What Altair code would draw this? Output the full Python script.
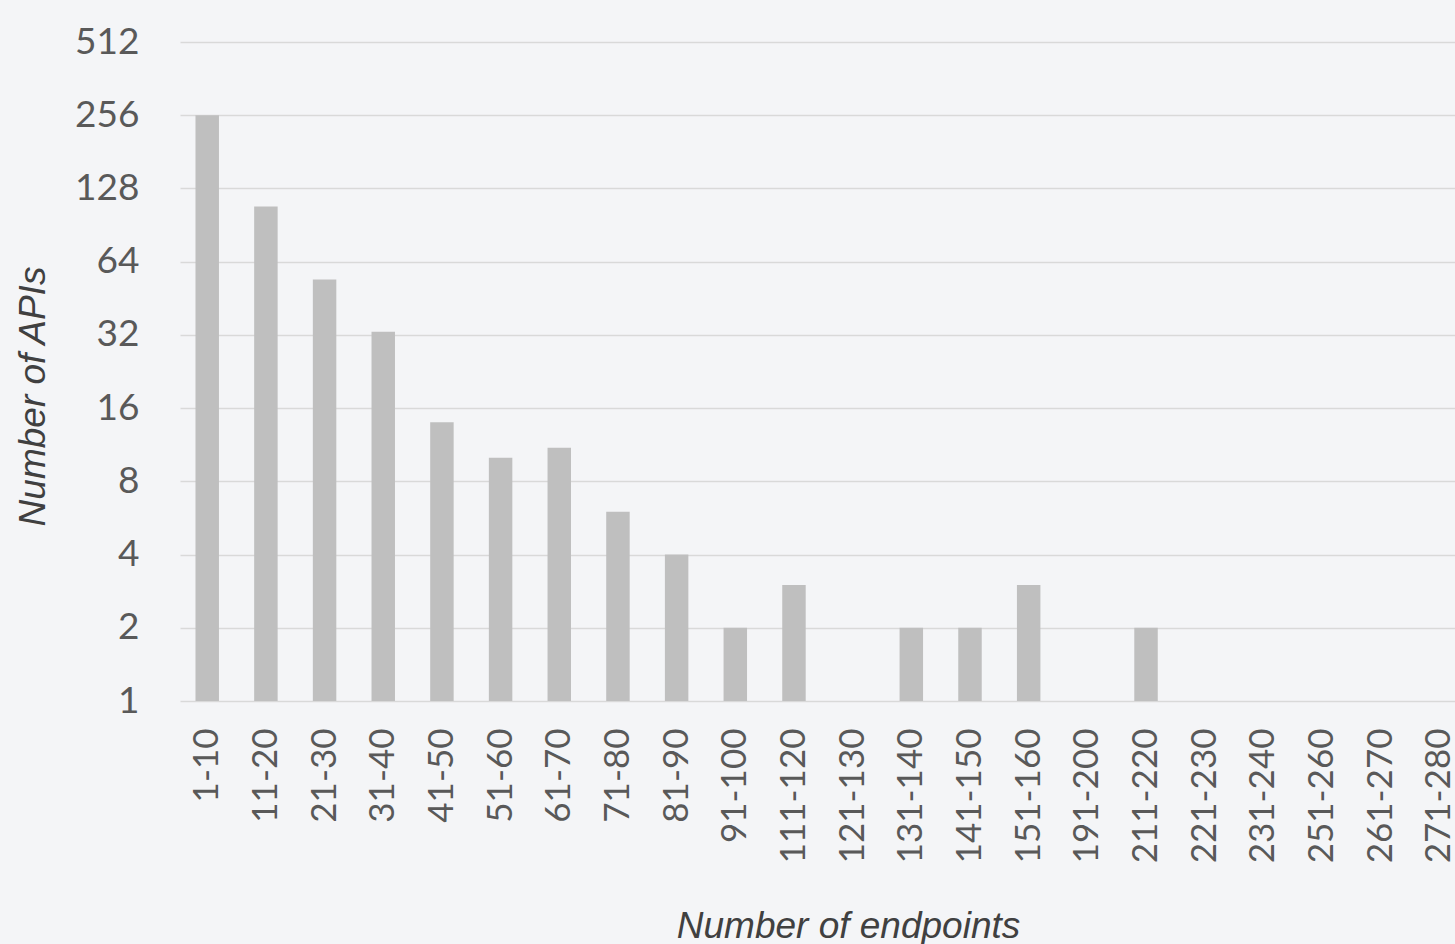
import altair as alt
import pandas as pd

# Endpoint-count buckets and number of APIs in each
buckets = ["1-10", "11-20", "21-30", "31-40", "41-50", "51-60", "61-70", "71-80",
           "81-90", "91-100", "111-120", "121-130", "131-140", "141-150", "151-160",
           "191-200", "211-220", "221-230", "231-240", "251-260", "261-270", "271-280"]
api_counts = [256, 108, 54, 33, 14, 10, 11, 6, 4, 2, 3, 1, 2, 2, 3, 1, 2, 1, 1, 1, 1, 1]
y_ticks = [1, 2, 4, 8, 16, 32, 64, 128, 256, 512]

df = pd.DataFrame({"bucket": buckets, "apis": api_counts})
df["base"] = 1  # bars start at the bottom of the log axis

BG = "#f4f5f7"
LABEL = "#595959"
TITLE = "#404040"
GRID = "#d9d9d9"

chart = (
    alt.Chart(df)
    .mark_bar(color="#bfbfbf")
    .encode(
        x=alt.X(
            "bucket:N",
            sort=buckets,
            scale=alt.Scale(paddingInner=0.6, paddingOuter=0.165, align=0.8),
            axis=alt.Axis(
                title="Number of endpoints",
                labelAngle=270,
                labelFont="Lato",
                labelFontSize=35,
                labelColor=LABEL,
                labelPadding=27,
                labelOverlap=False,
                labelBound=False,
                ticks=False,
                domain=False,
                grid=False,
                titleFont="Liberation Sans",
                titleFontStyle="italic",
                titleFontWeight="normal",
                titleFontSize=37,
                titleColor=TITLE,
                titleAlign="center",
                titleBaseline="alphabetic",
                titleX=668,
                titleY=236,
            ),
        ),
        y=alt.Y(
            "apis:Q",
            scale=alt.Scale(type="log", base=2, domain=[1, 512], nice=False),
            axis=alt.Axis(
                title="Number of APIs",
                values=y_ticks,
                format="d",
                labelFont="Lato",
                labelFontSize=37,
                labelColor=LABEL,
                labelPadding=41,
                ticks=False,
                domain=False,
                grid=True,
                gridColor=GRID,
                gridWidth=1.6,
                titleFont="Liberation Sans",
                titleFontStyle="italic",
                titleFontWeight="normal",
                titleFontSize=37,
                titleColor=TITLE,
                titleAngle=270,
                titleAlign="center",
                titleBaseline="alphabetic",
                titleX=-136,
                titleY=354,
            ),
        ),
        y2="base:Q",
    )
    .properties(
        width=1275,
        height=659,
        autosize=alt.AutoSizeParams(type="none"),
        padding={"left": 180, "top": 42, "right": 0, "bottom": 243},
        background=BG,
    )
    .configure_view(stroke=None, fill=BG)
)

chart.save("out.html", embed_options={"renderer": "svg", "actions": False})
